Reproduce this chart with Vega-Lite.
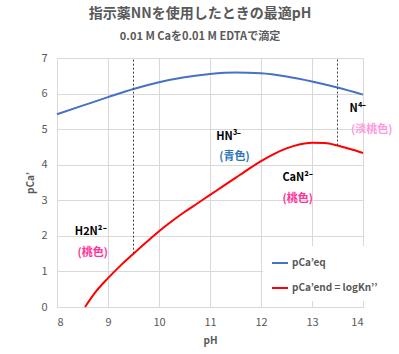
{
  "$schema": "https://vega.github.io/schema/vega-lite/v6.json",
  "width": 306,
  "height": 249,
  "autosize": {"type": "none"},
  "padding": {"left": 57, "top": 58, "right": 36, "bottom": 47},
  "background": "white",
  "title": {
    "text": "指示薬NNを使用したときの最適pH",
    "subtitle": "0.01 M Caを0.01 M EDTAで滴定",
    "anchor": "middle",
    "dx": -10,
    "offset": 10,
    "font": "Noto Sans CJK JP",
    "fontSize": 14,
    "fontWeight": "bold",
    "color": "#595959",
    "subtitleFont": "Noto Sans CJK JP",
    "subtitleFontSize": 11,
    "subtitleFontWeight": "bold",
    "subtitleColor": "#595959",
    "subtitlePadding": 10
  },
  "config": {
    "view": {"stroke": null},
    "font": "Noto Sans CJK JP",
    "axis": {
      "gridColor": "#D9D9D9",
      "domainColor": "#D9D9D9",
      "ticks": false,
      "labelColor": "#595959",
      "labelFontSize": 11,
      "titleColor": "#595959",
      "titleFontSize": 10,
      "titleFontWeight": "bold"
    }
  },
  "datasets": {
    "curves": [
      {"pH": 8.0, "value": 5.42, "series": "pCa’eq"},
      {"pH": 8.5, "value": 5.66, "series": "pCa’eq"},
      {"pH": 9.0, "value": 5.9, "series": "pCa’eq"},
      {"pH": 9.5, "value": 6.13, "series": "pCa’eq"},
      {"pH": 10.0, "value": 6.32, "series": "pCa’eq"},
      {"pH": 10.5, "value": 6.46, "series": "pCa’eq"},
      {"pH": 11.0, "value": 6.55, "series": "pCa’eq"},
      {"pH": 11.5, "value": 6.59, "series": "pCa’eq"},
      {"pH": 12.0, "value": 6.57, "series": "pCa’eq"},
      {"pH": 12.5, "value": 6.48, "series": "pCa’eq"},
      {"pH": 13.0, "value": 6.34, "series": "pCa’eq"},
      {"pH": 13.5, "value": 6.17, "series": "pCa’eq"},
      {"pH": 14.0, "value": 5.97, "series": "pCa’eq"},
      {"pH": 8.55, "value": 0.0, "series": "pCa’end = logKn’’"},
      {"pH": 8.75, "value": 0.41, "series": "pCa’end = logKn’’"},
      {"pH": 9.0, "value": 0.81, "series": "pCa’end = logKn’’"},
      {"pH": 9.25, "value": 1.17, "series": "pCa’end = logKn’’"},
      {"pH": 9.5, "value": 1.5, "series": "pCa’end = logKn’’"},
      {"pH": 9.75, "value": 1.82, "series": "pCa’end = logKn’’"},
      {"pH": 10.0, "value": 2.13, "series": "pCa’end = logKn’’"},
      {"pH": 10.25, "value": 2.41, "series": "pCa’end = logKn’’"},
      {"pH": 10.5, "value": 2.67, "series": "pCa’end = logKn’’"},
      {"pH": 10.75, "value": 2.91, "series": "pCa’end = logKn’’"},
      {"pH": 11.0, "value": 3.15, "series": "pCa’end = logKn’’"},
      {"pH": 11.25, "value": 3.39, "series": "pCa’end = logKn’’"},
      {"pH": 11.5, "value": 3.63, "series": "pCa’end = logKn’’"},
      {"pH": 11.75, "value": 3.87, "series": "pCa’end = logKn’’"},
      {"pH": 12.0, "value": 4.1, "series": "pCa’end = logKn’’"},
      {"pH": 12.25, "value": 4.3, "series": "pCa’end = logKn’’"},
      {"pH": 12.5, "value": 4.46, "series": "pCa’end = logKn’’"},
      {"pH": 12.75, "value": 4.57, "series": "pCa’end = logKn’’"},
      {"pH": 13.0, "value": 4.62, "series": "pCa’end = logKn’’"},
      {"pH": 13.25, "value": 4.61, "series": "pCa’end = logKn’’"},
      {"pH": 13.5, "value": 4.54, "series": "pCa’end = logKn’’"},
      {"pH": 13.75, "value": 4.44, "series": "pCa’end = logKn’’"},
      {"pH": 14.0, "value": 4.33, "series": "pCa’end = logKn’’"}
    ],
    "rules": [
      {"pH": 9.5, "value": 1.5, "to": 7},
      {"pH": 13.5, "value": 4.54, "to": 7}
    ],
    "labels": [
      {"pH": 8.66, "value": 2.12, "text": "H2N²⁻", "kind": "species"},
      {"pH": 8.7, "value": 1.53, "text": "(桃色)", "kind": "pink"},
      {"pH": 11.37, "value": 4.77, "text": "HN³⁻", "kind": "species"},
      {"pH": 11.48, "value": 4.22, "text": "(青色)", "kind": "blue"},
      {"pH": 12.72, "value": 3.63, "text": "CaN²⁻", "kind": "species"},
      {"pH": 12.72, "value": 3.04, "text": "(桃色)", "kind": "pink"},
      {"pH": 13.9, "value": 5.57, "text": "N⁴⁻", "kind": "species"},
      {"pH": 14.17, "value": 4.98, "text": "(淡桃色)", "kind": "lightpink"}
    ]
  },
  "encoding": {
    "x": {"field": "pH", "type": "quantitative", "scale": {"domain": [8, 14], "nice": false}, "axis": {"values": [8, 9, 10, 11, 12, 13, 14], "title": "pH", "labelPadding": 9, "titlePadding": 8}},
    "y": {"field": "value", "type": "quantitative", "scale": {"domain": [0, 7], "nice": false}, "axis": {"values": [0, 1, 2, 3, 4, 5, 6, 7], "title": "pCa’", "labelPadding": 10, "titlePadding": 5}}
  },
  "layer": [
    {
      "data": {"name": "curves"},
      "mark": {"type": "line", "strokeWidth": 2, "interpolate": "monotone"},
      "encoding": {
        "color": {
          "field": "series", "type": "nominal",
          "scale": {"domain": ["pCa’eq", "pCa’end = logKn’’"], "range": ["#4472C4", "#FF0000"]},
          "legend": {
            "title": null, "orient": "none", "legendX": 206, "legendY": 188,
            "padding": 8, "fillColor": "white", "symbolType": "stroke", "symbolSize": 256,
            "symbolStrokeWidth": 2, "labelFontSize": 10, "labelFontWeight": "bold",
            "labelColor": "#595959", "labelOffset": 3, "rowPadding": 11
          }
        }
      }
    },
    {
      "data": {"name": "rules"},
      "mark": {"type": "rule", "strokeDash": [2, 2], "color": "#404040", "strokeWidth": 1},
      "encoding": {"y2": {"field": "to"}}
    },
    {
      "data": {"name": "labels"},
      "transform": [{"filter": "datum.kind === 'species'"}],
      "mark": {"type": "text", "fontSize": 11, "fontWeight": "bold", "color": "#000000"},
      "encoding": {"text": {"field": "text"}}
    },
    {
      "data": {"name": "labels"},
      "transform": [{"filter": "datum.kind === 'pink'"}],
      "mark": {"type": "text", "fontSize": 11, "fontWeight": "bold", "color": "#FF3399"},
      "encoding": {"text": {"field": "text"}}
    },
    {
      "data": {"name": "labels"},
      "transform": [{"filter": "datum.kind === 'blue'"}],
      "mark": {"type": "text", "fontSize": 11, "fontWeight": "bold", "color": "#2E75B6"},
      "encoding": {"text": {"field": "text"}}
    },
    {
      "data": {"name": "labels"},
      "transform": [{"filter": "datum.kind === 'lightpink'"}],
      "mark": {"type": "text", "fontSize": 11, "fontWeight": "bold", "color": "#FF99DD"},
      "encoding": {"text": {"field": "text"}}
    }
  ]
}
